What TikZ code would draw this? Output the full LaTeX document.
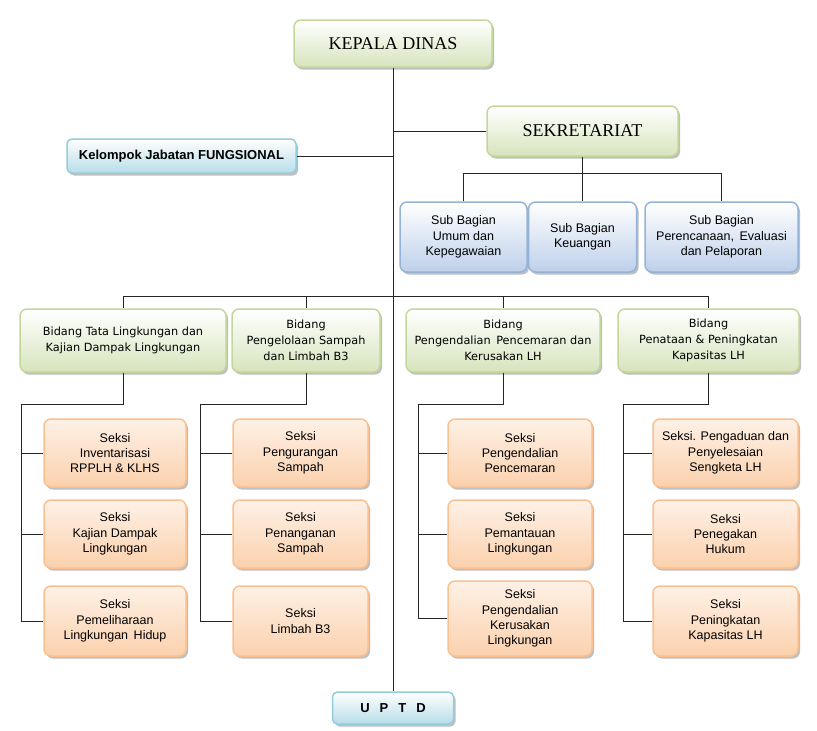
\documentclass[tikz,border=0pt]{standalone}
\usepackage{fontspec}
\setmainfont{Liberation Sans}
\newfontfamily\timesfont{Liberation Serif}
\newfontfamily\bidfont{DejaVu Sans}
\usepackage{xcolor}
\usetikzlibrary{positioning, calc, shadows}

\definecolor{grnline}{HTML}{C3D69B}
\definecolor{grnfill}{HTML}{D7E4BD}
\definecolor{bluline}{HTML}{93CDDD}
\definecolor{blufill}{HTML}{B7DDE8}
\definecolor{subline}{HTML}{95B3D7}
\definecolor{subfill}{HTML}{BDD0EA}
\definecolor{orline}{HTML}{FAC090}
\definecolor{orfill}{HTML}{FBD1AD}
\definecolor{ortop}{HTML}{FEF1E6}

\tikzset{
    box/.style={draw, rounded corners=7pt, line width=1.5pt, align=center, inner sep=1pt,
        drop shadow={shadow xshift=2pt, shadow yshift=-2.5pt, fill=black!45, opacity=0.55}},
    greenbox/.style={box, draw=grnline, top color=white, bottom color=grnfill},
    titlebox/.style={greenbox, font=\timesfont\fontsize{18}{21}\selectfont},
    bluebox/.style={box, rounded corners=5pt, draw=bluline, top color=white, bottom color=blufill,
        font=\bfseries\fontsize{13}{15}\selectfont},
    subbox/.style={box, draw=subline, top color=white, bottom color=subfill,
        minimum height=70, font=\fontsize{12.5}{15.5}\selectfont},
    bidbox/.style={greenbox, minimum height=63, font=\bidfont\fontsize{11.3}{16}\selectfont},
    seksibox/.style={box, draw=orline, top color=ortop, bottom color=orfill,
        minimum height=68, font=\fontsize{12.5}{15.3}\selectfont},
    link/.style={black!85, line width=1pt}
}

\begin{document}
\begin{tikzpicture}[x=1pt, y=-1pt]
    \path[use as bounding box, fill=white] (0,0) rectangle (817,731);

    % pimpinan
    \node[titlebox, minimum width=198, minimum height=47] (kepala) at (393,43.5) {KEPALA DINAS};
    \node[titlebox, minimum width=191, minimum height=50] (sekretariat) at (582.5,131) {SEKRETARIAT};
    \node[bluebox, minimum width=229, minimum height=34] (fungsional) at (181.5,156) {Kelompok Jabatan FUNGSIONAL};
    \node[bluebox, minimum width=121, minimum height=32] (uptd) at (393,708) {U\hspace{10pt}P\hspace{10pt}T\hspace{10pt}D};

    % sub bagian
    \node[subbox, minimum width=127] (subumum) at (463.5,237) {Sub Bagian\\Umum dan\\Kepegawaian};
    \node[subbox, minimum width=108] (subkeu) at (582.5,237) {Sub Bagian\\Keuangan};
    \node[subbox, minimum width=153] (subrencana) at (721.5,237) {Sub Bagian\\Perencanaan,\, Evaluasi\\dan Pelaporan};

    % bidang
    \node[bidbox, minimum width=206] (bid1) at (123,340.5) {Bidang Tata Lingkungan dan\\Kajian Dampak Lingkungan};
    \node[bidbox, minimum width=148] (bid2) at (306,340.5) {Bidang\\Pengelolaan Sampah\\dan Limbah B3};
    \node[bidbox, minimum width=194] (bid3) at (503,340.5) {Bidang\\Pengendalian\, Pencemaran dan\\Kerusakan LH};
    \node[bidbox, minimum width=181] (bid4) at (708.5,340.5) {Bidang\\Penataan \& Peningkatan\\Kapasitas LH};

    % seksi
    \node[seksibox, minimum width=142] (seksi11) at (115,453) {Seksi\\Inventarisasi\\RPPLH \& KLHS};
    \node[seksibox, minimum width=142] (seksi12) at (115,534) {Seksi\\Kajian Dampak\\Lingkungan};
    \node[seksibox, minimum width=142, minimum height=70] (seksi13) at (115,621) {Seksi\\Pemeliharaan\\Lingkungan\, Hidup};
    \node[seksibox, minimum width=135] (seksi21) at (300.5,453) {Seksi\\Pengurangan\\Sampah};
    \node[seksibox, minimum width=135] (seksi22) at (300.5,534) {Seksi\\Penanganan\\Sampah};
    \node[seksibox, minimum width=135, minimum height=70] (seksi23) at (300.5,621) {Seksi\\Limbah B3};
    \node[seksibox, minimum width=144] (seksi31) at (520,453) {Seksi\\Pengendalian\\Pencemaran};
    \node[seksibox, minimum width=144] (seksi32) at (520,534) {Seksi\\Pemantauan\\Lingkungan};
    \node[seksibox, minimum width=144, minimum height=75] (seksi33) at (520,618.5) {Seksi\\Pengendalian\\Kerusakan\\Lingkungan};
    \node[seksibox, minimum width=145] (seksi41) at (725.5,453) {Seksi. Pengaduan dan\\Penyelesaian\\Sengketa LH};
    \node[seksibox, minimum width=145] (seksi42) at (725.5,534) {Seksi\\Penegakan\\Hukum};
    \node[seksibox, minimum width=145, minimum height=70] (seksi43) at (725.5,621) {Seksi\\Peningkatan\\Kapasitas LH};

    % garis
    \coordinate (subbus) at (0,173);
    \coordinate (bidbus) at (0,296);
    \begin{scope}[link]
        \draw (kepala.south) -- (uptd.north);
        \draw (sekretariat.west) -- (sekretariat.west -| kepala.south);
        \draw (fungsional.east) -- (fungsional.east -| kepala.south);
        \draw (sekretariat.south) -- (subkeu.north);
        \draw (subumum.north) |- (subbus -| subrencana.north) -- (subrencana.north);
        \draw (bid1.north) |- (bidbus -| bid4.north) -- (bid4.north);
        \foreach \b in {bid2, bid3}
            \draw (\b.north) -- (\b.north |- bidbus);
        \foreach \c/\tx in {1/21, 2/200, 3/418, 4/623} {
            \coordinate (trunk\c) at (\tx,404);
            \draw (bid\c.south) |- (trunk\c) |- (seksi\c3.west);
            \draw (trunk\c |- seksi\c1.west) -- (seksi\c1.west);
            \draw (trunk\c |- seksi\c2.west) -- (seksi\c2.west);
        }
    \end{scope}
\end{tikzpicture}
\end{document}
